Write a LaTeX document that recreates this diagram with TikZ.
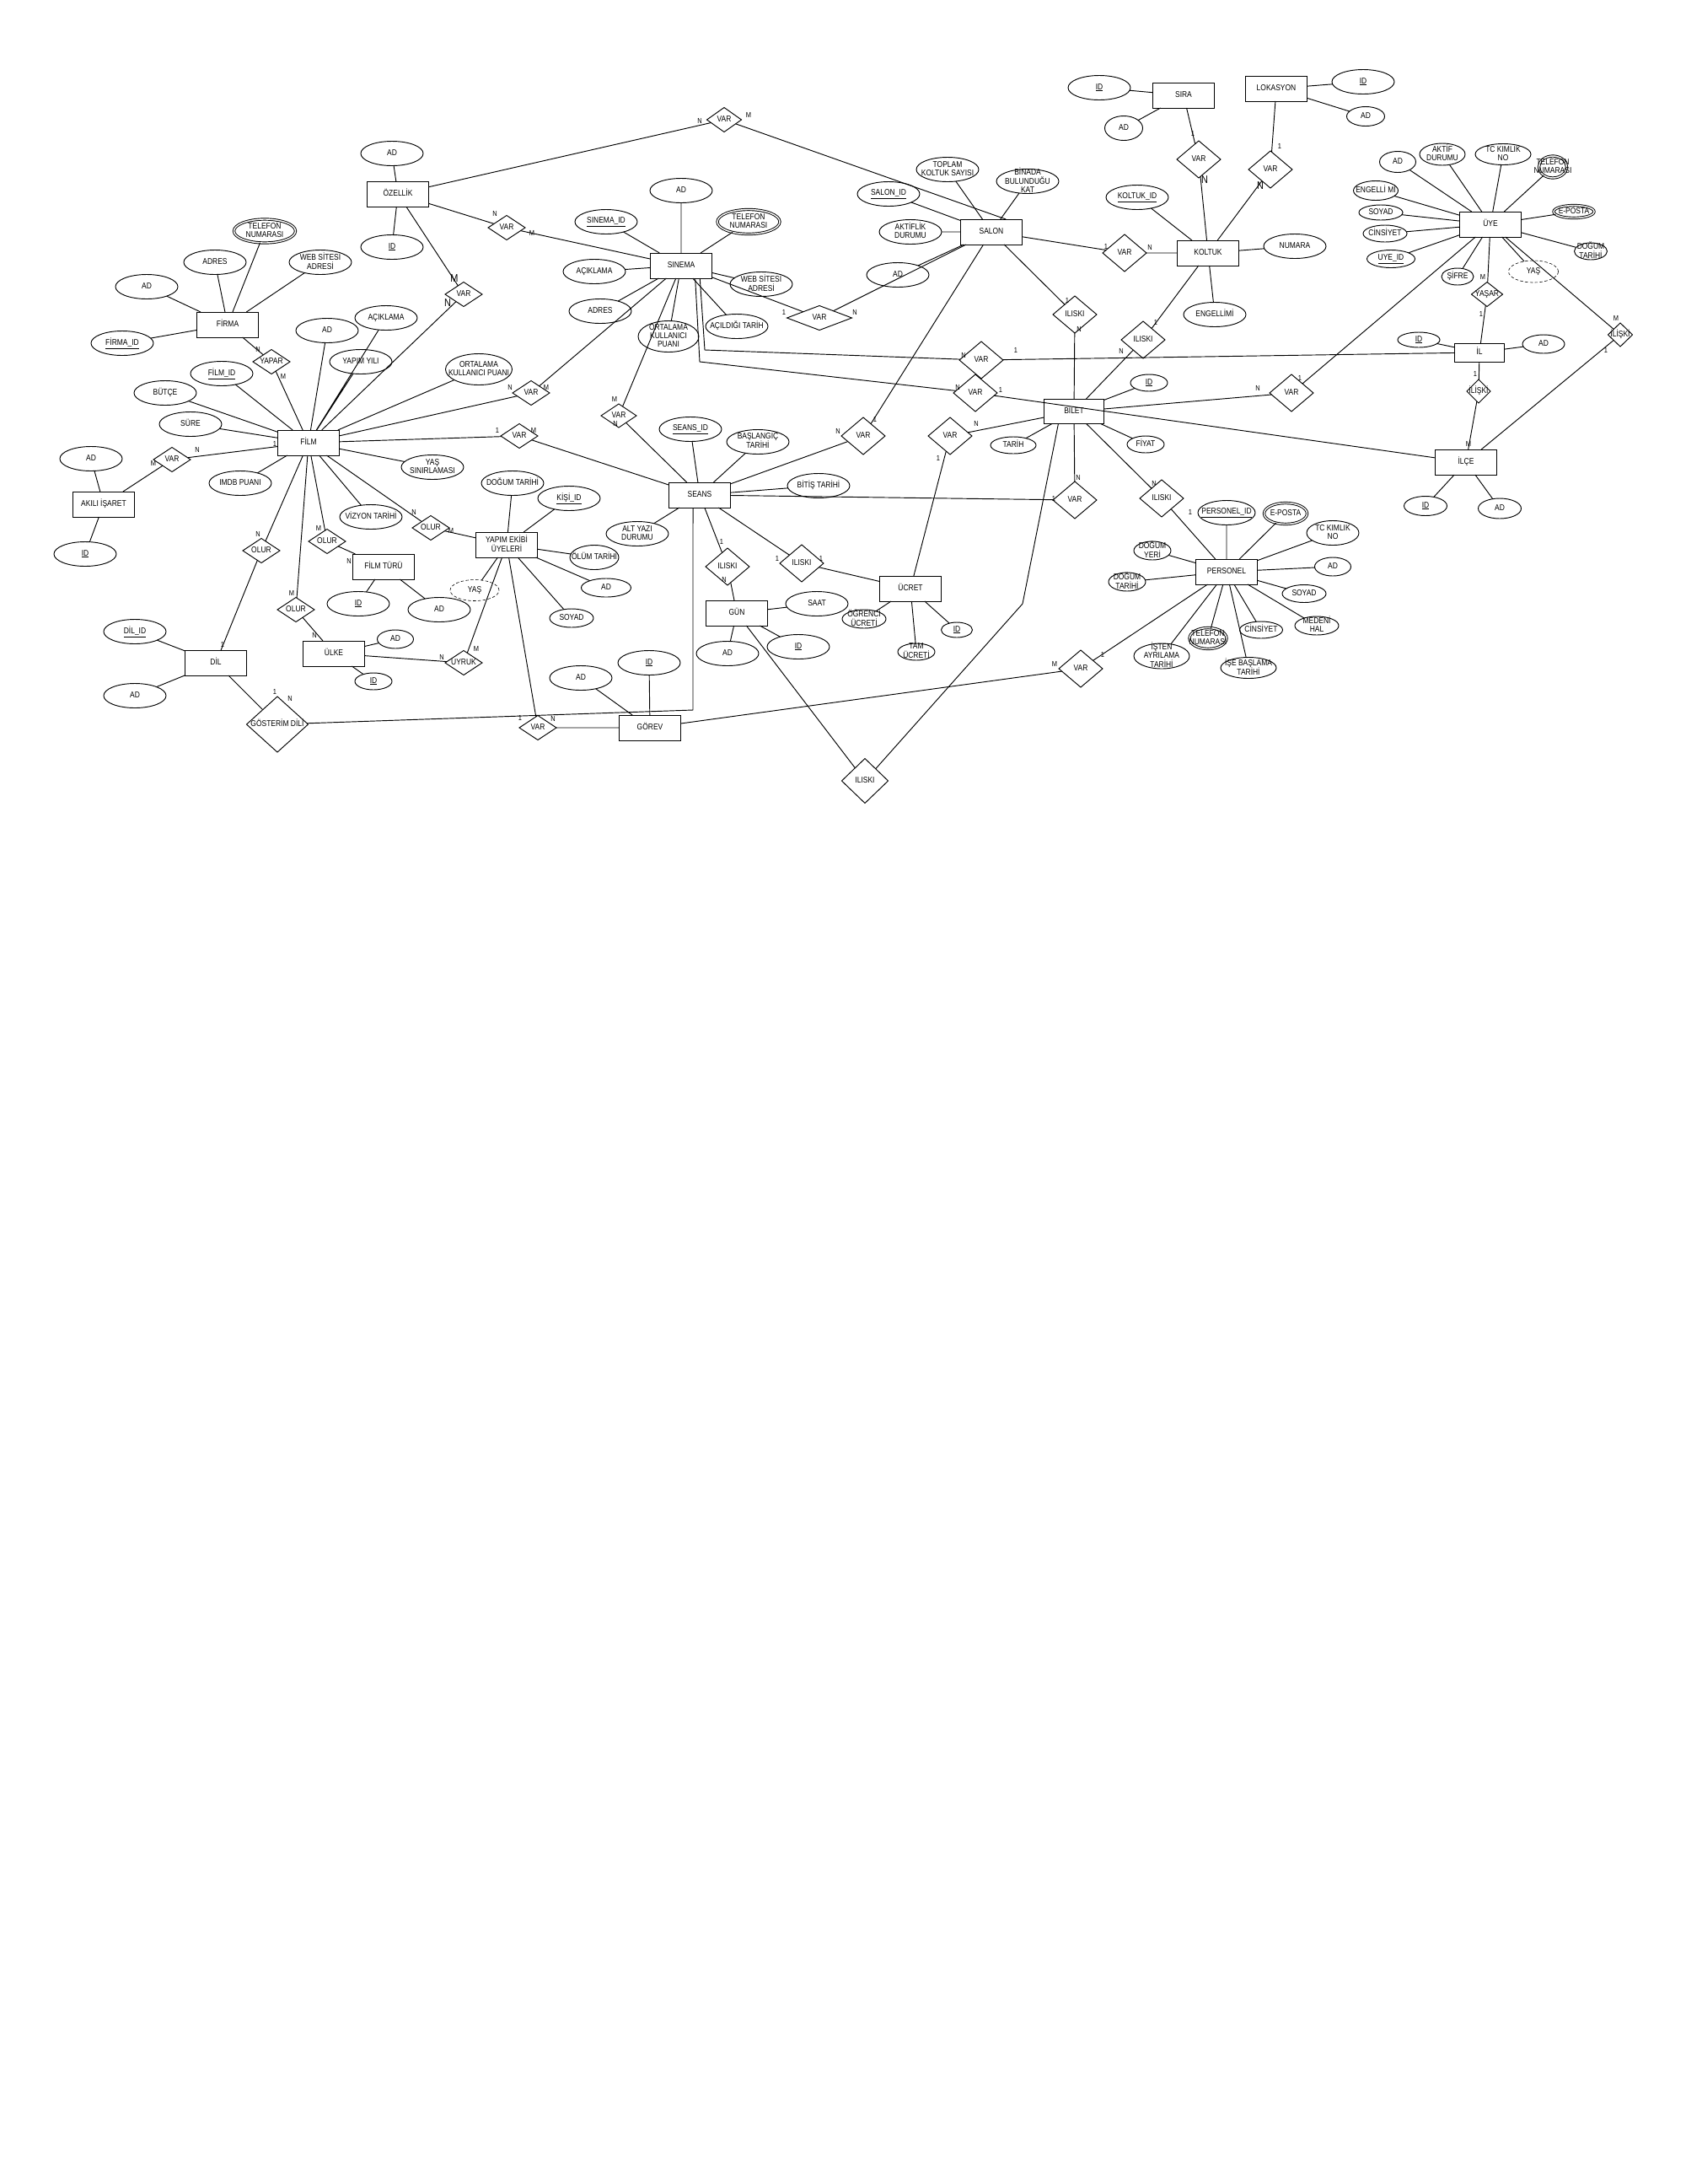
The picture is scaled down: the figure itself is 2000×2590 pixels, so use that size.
\documentclass[tikz,border=0pt]{standalone}
\usepackage{fontspec}
\setmainfont{Liberation Sans}[FakeStretch=0.85]
\usetikzlibrary{shapes.geometric}
\renewcommand{\arraystretch}{0.9}
\newcommand{\lb}[1]{\smash{\makebox[0pt]{\raisebox{-0.45ex}{\begin{tabular}[c]{@{}c@{}}#1\end{tabular}}}}}

\begin{document}
\begin{tikzpicture}[x=0.03cm,y=-0.03cm,line width=0.8pt,
  every node/.style={inner sep=0pt,outer sep=0pt,font=\fontsize{8.5}{9.5}\selectfont},
  sz/.style 2 args={minimum width=#1*0.03cm,minimum height=#2*0.03cm},
  ent/.style={rectangle,draw,sz={73}{30}},
  att/.style={ellipse,draw,sz={74}{29}},
  rel/.style={diamond,draw,sz={44}{29}},
  brel/.style={diamond,draw,sz={52}{44}},
  multi/.style={double,double distance=1.2pt},
  derived/.style={densely dashed,line width=0.5pt},
  card/.style={font=\fontsize{7.5}{8}\selectfont},
  bcard/.style={font=\fontsize{11}{12}\selectfont}]
%
\useasboundingbox (0,0) rectangle (2000,2590);
%
% entities
\node[ent] (ozellik) at (472,230) {\lb{ÖZELLİK}};
\node[ent] (firma) at (270,385) {\lb{FİRMA}};
\node[ent] (film) at (366,525) {\lb{FİLM}};
\node[ent] (akili) at (123,598) {\lb{AKILI İŞARET}};
\node[ent] (yapim) at (601,646) {\lb{YAPIM EKİBİ\\ÜYELERİ}};
\node[ent] (filmturu) at (455,672) {\lb{FİLM TÜRÜ}};
\node[ent] (dil) at (256,786) {\lb{DİL}};
\node[ent] (ulke) at (396,775) {\lb{ÜLKE}};
\node[ent] (sinema) at (808,315) {\lb{SINEMA}};
\node[ent] (salon) at (1176,275) {\lb{SALON}};
\node[ent] (sira) at (1404,113) {\lb{SIRA}};
\node[ent] (lokasyon) at (1514,105) {\lb{LOKASYON}};
\node[ent] (koltuk) at (1433,300) {\lb{KOLTUK}};
\node[ent] (uye) at (1768,266) {\lb{ÜYE}};
\node[ent,sz={59}{22}] (il) at (1755,418) {\lb{İL}};
\node[ent] (ilce) at (1739,548) {\lb{İLÇE}};
\node[ent,sz={71}{29}] (bilet) at (1274,488) {\lb{BİLET}};
\node[ent] (seans) at (830,587) {\lb{SEANS}};
\node[ent] (gun) at (874,727) {\lb{GÜN}};
\node[ent] (ucret) at (1080,698) {\lb{ÜCRET}};
\node[ent] (gorev) at (771,863) {\lb{GÖREV}};
\node[ent] (personel) at (1455,678) {\lb{PERSONEL}};
%
% relationships
\node[rel,sz={41}{29}] (vTop) at (859,142) {\lb{VAR}};
\node[rel] (vOzSin) at (601,270) {\lb{VAR}};
\node[rel] (vOzFilm) at (550,349) {\lb{VAR}};
\node[rel] (yapar) at (322,429) {\lb{YAPAR}};
\node[rel] (vAkili) at (204,545) {\lb{VAR}};
\node[rel] (vFilmSin) at (630,466) {\lb{VAR}};
\node[rel] (vFilmSeans) at (616,517) {\lb{VAR}};
\node[rel] (olurYapim) at (511,626) {\lb{OLUR}};
\node[rel] (olurDil) at (310,653) {\lb{OLUR}};
\node[rel] (olurTur) at (388,642) {\lb{OLUR}};
\node[rel] (olurUlke) at (351,723) {\lb{OLUR}};
\node[rel] (uyruk) at (550,786) {\lb{UYRUK}};
\node[rel,sz={73}{66}] (gosterim) at (329,859) {\lb{GÖSTERİM DİLİ}};
\node[rel] (vGorev) at (638,863) {\lb{VAR}};
\node[rel,sz={77}{29}] (vSinSalon) at (972,377) {\lb{VAR}};
\node[rel,sz={42}{28}] (vSinSeans) at (734,493) {\lb{VAR}};
\node[brel] (vSinIl) at (1164,427) {\lb{VAR}};
\node[brel] (vSinBilet) at (1157,466) {\lb{VAR}};
\node[brel] (vSeansSalon) at (1024,517) {\lb{VAR}};
\node[brel] (vBiletUcret) at (1127,517) {\lb{VAR}};
\node[brel] (vSeansBilet) at (1275,593) {\lb{VAR}};
\node[brel] (iSalonBilet) at (1275,373) {\lb{ILISKI}};
\node[brel] (iKoltukBilet) at (1356,403) {\lb{ILISKI}};
\node[brel] (vSalonKoltuk) at (1334,300) {\lb{VAR}};
\node[brel] (vSiraKoltuk) at (1422,189) {\lb{VAR}};
\node[brel] (vLokKoltuk) at (1507,201) {\lb{VAR}};
\node[brel] (vBiletUye) at (1532,466) {\lb{VAR}};
\node[rel,sz={37}{29}] (yasar) at (1764,349) {\lb{YAŞAR}};
\node[rel,sz={28}{28}] (iIlIlce) at (1754,464) {\lb{İLİŞKİ}};
\node[rel,sz={29}{28}] (iUyeIlce) at (1922,397) {\lb{İLİŞKİ}};
\node[brel] (iBiletPers) at (1378,591) {\lb{ILISKI}};
\node[brel] (vPersGorev) at (1282,793) {\lb{VAR}};
\node[brel] (iSeansGun) at (863,672) {\lb{ILISKI}};
\node[brel] (iSeansUcret) at (951,668) {\lb{ILISKI}};
\node[rel,sz={55}{53}] (iBottom) at (1026,926) {\lb{ILISKI}};
%
% attributes
\node[att] (ozAd) at (465,182) {\lb{AD}};
\node[att] (ozId) at (465,293) {\lb{\underline{ID}}};
\node[att,multi,sz={73}{28}] (fiTel) at (314,274) {\lb{TELEFON\\NUMARASI}};
\node[att] (fiAdres) at (255,311) {\lb{ADRES}};
\node[att] (fiWeb) at (380,311) {\lb{WEB SİTESİ\\ADRESİ}};
\node[att] (fiAd) at (174,340) {\lb{AD}};
\node[att] (fiId) at (145,407) {\lb{\underline{FİRMA\_ID}}};
\node[att] (flId) at (263,443) {\lb{\underline{FİLM\_ID}}};
\node[att] (flAd) at (388,392) {\lb{AD}};
\node[att] (flAcik) at (458,377) {\lb{AÇIKLAMA}};
\node[att] (flYil) at (428,429) {\lb{YAPIM YILI}};
\node[att] (flButce) at (196,466) {\lb{BÜTÇE}};
\node[att] (flSure) at (226,503) {\lb{SÜRE}};
\node[att] (flImdb) at (285,573) {\lb{IMDB PUANI}};
\node[att,sz={79}{37}] (flOrt) at (568,438) {\lb{ORTALAMA\\KULLANICI PUANI}};
\node[att] (flYas) at (513,554) {\lb{YAŞ\\SINIRLAMASI}};
\node[att] (flViz) at (440,613) {\lb{VİZYON TARİHİ}};
\node[att] (akAd) at (108,544) {\lb{AD}};
\node[att] (akId) at (101,657) {\lb{\underline{ID}}};
\node[att] (yeDog) at (608,573) {\lb{DOĞUM TARİHİ}};
\node[att] (yeKisi) at (675,591) {\lb{\underline{KİŞİ\_ID}}};
\node[att,sz={58}{29}] (yeOlum) at (705,661) {\lb{ÖLÜM TARİHİ}};
\node[att,sz={59}{22}] (yeAd) at (719,697) {\lb{AD}};
\node[att,sz={52}{22}] (yeSoyad) at (678,733) {\lb{SOYAD}};
\node[att,derived,sz={58}{25}] (yeYas) at (563,700) {\lb{YAŞ}};
\node[att] (ftId) at (425,716) {\lb{\underline{ID}}};
\node[att] (ftAd) at (521,723) {\lb{AD}};
\node[att] (dId) at (160,749) {\lb{\underline{DİL\_ID}}};
\node[att] (dAd) at (160,825) {\lb{AD}};
\node[att,sz={43}{22}] (ulAd) at (469,758) {\lb{AD}};
\node[att,sz={44}{20}] (ulId) at (443,808) {\lb{\underline{ID}}};
\node[att] (snAd) at (808,226) {\lb{AD}};
\node[att] (snId) at (719,263) {\lb{\underline{SINEMA\_ID}}};
\node[att,multi] (snTel) at (888,263) {\lb{TELEFON\\NUMARASI}};
\node[att] (snAcik) at (705,322) {\lb{AÇIKLAMA}};
\node[att] (snWeb) at (903,337) {\lb{WEB SİTESİ\\ADRESİ}};
\node[att] (snAdres) at (712,369) {\lb{ADRES}};
\node[att,sz={72}{37}] (snOrt) at (793,399) {\lb{ORTALAMA\\KULLANICI\\PUANI}};
\node[att] (snAcil) at (874,387) {\lb{AÇILDIĞI TARİH}};
\node[att] (saId) at (1054,230) {\lb{\underline{SALON\_ID}}};
\node[att] (saTop) at (1124,201) {\lb{TOPLAM\\KOLTUK SAYISI}};
\node[att] (saKat) at (1219,215) {\lb{BİNADA\\BULUNDUĞU\\KAT}};
\node[att] (saAkt) at (1080,275) {\lb{AKTİFLİK\\DURUMU}};
\node[att] (saAd) at (1065,326) {\lb{AD}};
\node[att] (siId) at (1304,104) {\lb{\underline{ID}}};
\node[att,sz={45}{29}] (siAd) at (1333,152) {\lb{AD}};
\node[att] (loId) at (1617,97) {\lb{\underline{ID}}};
\node[att,sz={45}{23}] (loAd) at (1620,138) {\lb{AD}};
\node[att] (koId) at (1349,234) {\lb{\underline{KOLTUK\_ID}}};
\node[att] (koNum) at (1536,292) {\lb{NUMARA}};
\node[att] (koEng) at (1441,373) {\lb{ENGELLİMİ}};
\node[att,sz={43}{25}] (uAd) at (1658,192) {\lb{AD}};
\node[att,sz={54}{26}] (uAkt) at (1711,183) {\lb{AKTİF\\DURUMU}};
\node[att,sz={66}{25}] (uTc) at (1783,183) {\lb{TC KIMLIK\\NO}};
\node[att,multi,sz={33}{26}] (uTel) at (1842,198) {\lb{TELEFON\\NUMARASI}};
\node[att,sz={53}{23}] (uEng) at (1632,226) {\lb{ENGELLİ Mİ}};
\node[att,sz={52}{18}] (uSoyad) at (1638,252) {\lb{SOYAD}};
\node[att,sz={52}{20}] (uCins) at (1643,277) {\lb{CİNSİYET}};
\node[att,sz={57}{21}] (uId) at (1650,307) {\lb{\underline{UYE\_ID}}};
\node[att,multi,sz={48}{15}] (uEpos) at (1867,251) {\lb{E-POSTA}};
\node[att,sz={39}{20}] (uDog) at (1887,298) {\lb{DOĞUM\\TARİHİ}};
\node[att,derived,sz={59}{26}] (uYas) at (1819,322) {\lb{YAŞ}};
\node[att,sz={38}{20}] (uSifre) at (1729,328) {\lb{ŞİFRE}};
\node[att,sz={50}{18}] (ilId) at (1683,403) {\lb{\underline{ID}}};
\node[att,sz={50}{22}] (ilAd) at (1831,408) {\lb{AD}};
\node[att,sz={51}{23}] (icId) at (1691,600) {\lb{\underline{ID}}};
\node[att,sz={51}{24}] (icAd) at (1779,603) {\lb{AD}};
\node[att,sz={44}{20}] (bId) at (1363,454) {\lb{\underline{ID}}};
\node[att,sz={44}{20}] (bFiyat) at (1359,527) {\lb{FİYAT}};
\node[att,sz={54}{20}] (bTarih) at (1202,528) {\lb{TARİH}};
\node[att,sz={68}{29}] (pId) at (1455,608) {\lb{\underline{PERSONEL\_ID}}};
\node[att,multi,sz={51}{25}] (pEpos) at (1525,609) {\lb{E-POSTA}};
\node[att,sz={62}{29}] (pTc) at (1581,632) {\lb{TC KIMLIK\\NO}};
\node[att,sz={43}{22}] (pAd) at (1581,672) {\lb{AD}};
\node[att,sz={52}{21}] (pSoyad) at (1547,704) {\lb{SOYAD}};
\node[att,sz={52}{22}] (pMed) at (1562,742) {\lb{MEDENİ\\HAL}};
\node[att,sz={51}{20}] (pCins) at (1496,747) {\lb{CİNSİYET}};
\node[att,sz={66}{25}] (pIse) at (1481,792) {\lb{İŞE BAŞLAMA\\TARİHİ}};
\node[att,multi,sz={44}{25}] (pTel) at (1433,757) {\lb{TELEFON\\NUMARASI}};
\node[att,sz={66}{30}] (pIsten) at (1378,778) {\lb{İŞTEN\\AYRILAMA\\TARİHİ}};
\node[att,sz={44}{22}] (pDogT) at (1337,690) {\lb{DOĞUM\\TARİHİ}};
\node[att,sz={44}{22}] (pDogY) at (1367,653) {\lb{DOĞUM\\YERİ}};
\node[att] (seId) at (819,509) {\lb{\underline{SEANS\_ID}}};
\node[att] (seBas) at (899,524) {\lb{BAŞLANGIÇ\\TARİHİ}};
\node[att] (seBit) at (971,576) {\lb{BİTİŞ TARİHİ}};
\node[att] (seAlt) at (756,633) {\lb{ALT YAZI\\DURUMU}};
\node[att] (gSaat) at (969,716) {\lb{SAAT}};
\node[att] (gAd) at (863,775) {\lb{AD}};
\node[att] (gId) at (947,767) {\lb{\underline{ID}}};
\node[att,sz={52}{22}] (ucOgr) at (1025,734) {\lb{ÖĞRENCİ\\ÜCRETİ}};
\node[att,sz={44}{20}] (ucTam) at (1087,773) {\lb{TAM\\ÜCRETİ}};
\node[att,sz={37}{18}] (ucId) at (1135,747) {\lb{\underline{ID}}};
\node[att] (goAd) at (689,804) {\lb{AD}};
\node[att] (goId) at (770,786) {\lb{\underline{ID}}};
%
% bends
\coordinate (wSinIl) at (836,415);
\coordinate (wSinBil) at (830,429);
\coordinate (wGos) at (822,842);
\coordinate (wBil) at (1213,716);
%
% attribute lines
\draw (ozellik) -- (ozAd) (ozellik) -- (ozId);
\draw (firma) -- (fiTel) (firma) -- (fiAdres) (firma) -- (fiWeb) (firma) -- (fiAd) (firma) -- (fiId);
\draw (film) -- (flId) (film) -- (flAd) (film) -- (flAcik) (film) -- (flYil) (film) -- (flButce);
\draw (film) -- (flSure) (film) -- (flImdb) (film) -- (flOrt) (film) -- (flYas) (film) -- (flViz);
\draw (akili) -- (akAd) (akili) -- (akId);
\draw (yapim) -- (yeDog) (yapim) -- (yeKisi) (yapim) -- (yeOlum) (yapim) -- (yeAd) (yapim) -- (yeSoyad) (yapim) -- (yeYas);
\draw (filmturu) -- (ftId) (filmturu) -- (ftAd);
\draw (dil) -- (dId) (dil) -- (dAd);
\draw (ulke) -- (ulAd) (ulke) -- (ulId);
\draw (sinema) -- (snAd) (sinema) -- (snId) (sinema) -- (snTel) (sinema) -- (snAcik);
\draw (sinema) -- (snWeb) (sinema) -- (snAdres) (sinema) -- (snOrt) (sinema) -- (snAcil);
\draw (salon) -- (saId) (salon) -- (saTop) (salon) -- (saKat) (salon) -- (saAkt) (salon) -- (saAd);
\draw (sira) -- (siId) (sira) -- (siAd);
\draw (lokasyon) -- (loId) (lokasyon) -- (loAd);
\draw (koltuk) -- (koId) (koltuk) -- (koNum) (koltuk) -- (koEng);
\draw (uye) -- (uAd) (uye) -- (uAkt) (uye) -- (uTc) (uye) -- (uTel) (uye) -- (uEng) (uye) -- (uSoyad);
\draw (uye) -- (uCins) (uye) -- (uId) (uye) -- (uEpos) (uye) -- (uDog) (uye) -- (uYas) (uye) -- (uSifre);
\draw (il) -- (ilId) (il) -- (ilAd);
\draw (ilce) -- (icId) (ilce) -- (icAd);
\draw (bilet) -- (bId) (bilet) -- (bFiyat) (bilet) -- (bTarih);
\draw (personel) -- (pId) (personel) -- (pEpos) (personel) -- (pTc) (personel) -- (pAd) (personel) -- (pSoyad) (personel) -- (pMed);
\draw (personel) -- (pCins) (personel) -- (pIse) (personel) -- (pTel) (personel) -- (pIsten) (personel) -- (pDogT) (personel) -- (pDogY);
\draw (seans) -- (seId) (seans) -- (seBas) (seans) -- (seBit) (seans) -- (seAlt);
\draw (gun) -- (gSaat) (gun) -- (gAd) (gun) -- (gId);
\draw (ucret) -- (ucOgr) (ucret) -- (ucTam) (ucret) -- (ucId);
\draw (gorev) -- (goAd) (gorev) -- (goId);
%
% relationship lines
\draw (ozellik) -- (vTop) -- (salon.41);
\draw (ozellik) -- (vOzSin) -- (sinema);
\draw (ozellik) -- (vOzFilm) -- (film);
\draw (firma) -- (yapar) -- (film);
\draw (film) -- (vAkili) -- (akili);
\draw (film) -- (vFilmSin) -- (sinema);
\draw (film) -- (vFilmSeans) -- (seans);
\draw (film) -- (olurYapim) -- (yapim);
\draw (film) -- (olurDil) -- (dil);
\draw (film) -- (olurTur) -- (filmturu);
\draw (film) -- (olurUlke) -- (ulke);
\draw (ulke) -- (uyruk) -- (yapim);
\draw (dil) -- (gosterim) -- (wGos) -- (seans.242);
\draw (yapim) -- (vGorev) -- (gorev);
\draw (sinema) -- (vSinSalon) -- (salon);
\draw (sinema) -- (vSinSeans) -- (seans);
\draw (sinema.326) -- (wSinIl) -- (vSinIl) -- (il);
\draw (sinema.318) -- (wSinBil) -- (vSinBilet) -- (ilce);
\draw (seans) -- (vSeansSalon) -- (salon);
\draw (bilet) -- (vBiletUcret) -- (ucret);
\draw (seans) -- (vSeansBilet) -- (bilet);
\draw (salon) -- (iSalonBilet) -- (bilet);
\draw (koltuk) -- (iKoltukBilet) -- (bilet);
\draw (salon) -- (vSalonKoltuk) -- (koltuk);
\draw (sira) -- (vSiraKoltuk) -- (koltuk);
\draw (lokasyon) -- (vLokKoltuk) -- (koltuk);
\draw (bilet) -- (vBiletUye) -- (uye);
\draw (uye) -- (yasar) -- (il);
\draw (il) -- (iIlIlce) -- (ilce);
\draw (uye) -- (iUyeIlce) -- (ilce);
\draw (bilet) -- (iBiletPers) -- (personel);
\draw (gorev) -- (vPersGorev) -- (personel);
\draw (seans) -- (iSeansGun) -- (gun);
\draw (seans) -- (iSeansUcret) -- (ucret);
\draw (gun) -- (iBottom);
\draw (bilet.218) -- (wBil) -- (iBottom);
%
% cardinalities
\node[card] (c1) at (830,143) {N};
\node[card] (c2) at (888,136) {M};
\node[card] (c3) at (587,253) {N};
\node[card] (c4) at (631,276) {M};
\node[bcard] (c5) at (539,330) {M};
\node[bcard] (c6) at (531,359) {N};
\node[card] (c7) at (306,414) {N};
\node[card] (c8) at (336,446) {M};
\node[card] (c9) at (234,533) {N};
\node[card] (c10) at (182,549) {M};
\node[card] (c11) at (326,526) {1};
\node[card] (c12) at (605,459) {N};
\node[card] (c13) at (648,459) {M};
\node[card] (c14) at (590,510) {1};
\node[card] (c15) at (633,510) {M};
\node[card] (c16) at (491,607) {N};
\node[card] (c17) at (535,629) {M};
\node[card] (c18) at (306,633) {N};
\node[card] (c19) at (264,764) {1};
\node[card] (c20) at (378,626) {M};
\node[card] (c21) at (414,665) {N};
\node[card] (c22) at (346,703) {M};
\node[card] (c23) at (373,753) {N};
\node[card] (c24) at (524,779) {N};
\node[card] (c25) at (565,769) {M};
\node[card] (c26) at (326,820) {1};
\node[card] (c27) at (344,828) {N};
\node[card] (c28) at (617,851) {1};
\node[card] (c29) at (656,852) {N};
\node[card] (c30) at (930,370) {1};
\node[card] (c31) at (1014,370) {N};
\node[card] (c32) at (729,473) {M};
\node[card] (c33) at (730,502) {N};
\node[card] (c34) at (1143,421) {N};
\node[card] (c35) at (1205,415) {1};
\node[card] (c36) at (1136,459) {N};
\node[card] (c37) at (1187,462) {1};
\node[card] (c38) at (994,511) {N};
\node[card] (c39) at (1038,497) {1};
\node[card] (c40) at (1158,502) {N};
\node[card] (c41) at (1113,543) {1};
\node[card] (c42) at (1279,566) {N};
\node[card] (c43) at (1250,591) {1};
\node[card] (c44) at (1266,356) {1};
\node[card] (c45) at (1280,390) {N};
\node[card] (c46) at (1371,382) {1};
\node[card] (c47) at (1330,416) {N};
\node[card] (c48) at (1312,292) {1};
\node[card] (c49) at (1364,293) {N};
\node[card] (c50) at (1415,158) {1};
\node[bcard] (c51) at (1429,213) {N};
\node[card] (c52) at (1518,173) {1};
\node[bcard] (c53) at (1495,220) {N};
\node[card] (c54) at (1759,328) {M};
\node[card] (c55) at (1757,372) {1};
\node[card] (c56) at (1917,377) {M};
\node[card] (c57) at (1905,415) {1};
\node[card] (c58) at (1542,448) {1};
\node[card] (c59) at (1492,460) {N};
\node[card] (c60) at (1750,443) {1};
\node[card] (c61) at (1742,526) {M};
\node[card] (c62) at (1369,573) {N};
\node[card] (c63) at (1412,607) {1};
\node[card] (c64) at (1308,776) {1};
\node[card] (c65) at (1251,787) {M};
\node[card] (c66) at (856,642) {1};
\node[card] (c67) at (859,687) {N};
\node[card] (c68) at (922,662) {1};
\node[card] (c69) at (974,662) {1};
%
\end{tikzpicture}
\end{document}
